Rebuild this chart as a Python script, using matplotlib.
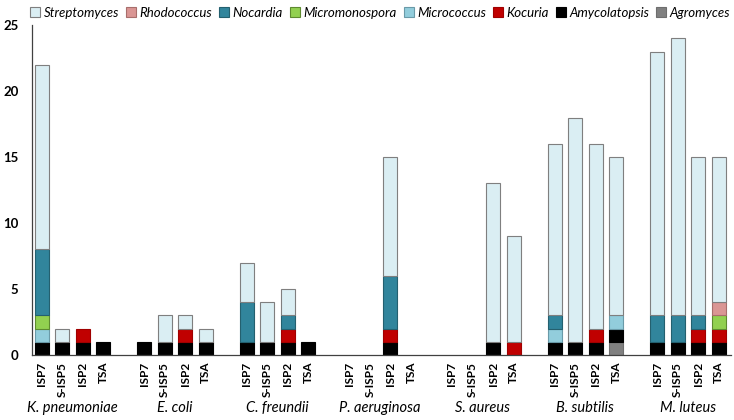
import numpy as np
import matplotlib.pyplot as plt

# bacteria tested and media
groups = ['K. pneumoniae', 'E. coli', 'C. freundii', 'P. aeruginosa',
          'S. aureus', 'B. subtilis', 'M. luteus']
media = ['ISP7', 'S-ISP5', 'ISP2', 'TSA']

# counts per bar (7 groups x 4 media, flattened in group order)
agromyces      = [0,0,0,0, 0,0,0,0, 0,0,0,0, 0,0,0,0, 0,0,0,0, 0,0,0,1, 0,0,0,0]
amycolatopsis  = [1,1,1,1, 1,1,1,1, 1,1,1,1, 0,0,1,0, 0,0,1,0, 1,1,1,1, 1,1,1,1]
kocuria        = [0,0,1,0, 0,0,1,0, 0,0,1,0, 0,0,1,0, 0,0,0,1, 0,0,1,0, 0,0,1,1]
micrococcus    = [1,0,0,0, 0,0,0,0, 0,0,0,0, 0,0,0,0, 0,0,0,0, 1,0,0,1, 0,0,0,0]
micromonospora = [1,0,0,0, 0,0,0,0, 0,0,0,0, 0,0,0,0, 0,0,0,0, 0,0,0,0, 0,0,0,1]
nocardia       = [5,0,0,0, 0,0,0,0, 3,0,1,0, 0,0,4,0, 0,0,0,0, 1,0,0,0, 2,2,1,0]
rhodococcus    = [0,0,0,0, 0,0,0,0, 0,0,0,0, 0,0,0,0, 0,0,0,0, 0,0,0,0, 0,0,0,1]
streptomyces   = [14,1,0,0, 0,2,1,1, 3,3,2,0, 0,0,9,0, 0,0,12,8, 13,17,14,12, 20,21,12,11]

# bottom-to-top stacking
series = [
    ('Agromyces', agromyces, '#808080', '#6e6e6e'),
    ('Amycolatopsis', amycolatopsis, '#000000', '#000000'),
    ('Kocuria', kocuria, '#c00000', '#a00000'),
    ('Micrococcus', micrococcus, '#92cddc', '#6a9aa8'),
    ('Micromonospora', micromonospora, '#92d050', '#5e8a30'),
    ('Nocardia', nocardia, '#31859c', '#24606f'),
    ('Rhodococcus', rhodococcus, '#da9694', '#a86e6c'),
    ('Streptomyces', streptomyces, '#daeef3', '#7f7f7f'),
]

x = np.array([g * 5 + i for g in range(len(groups)) for i in range(len(media))])

plt.rcParams['font.family'] = ['Lato', 'DejaVu Sans']
fig = plt.figure(figsize=(7.34, 4.2), dpi=100)
ax = fig.add_axes([0.044, 0.155, 0.952, 0.785])

bottom = np.zeros(len(x))
handles = []
for name, vals, col, edge in series:
    vals = np.array(vals, dtype=float)
    nz = vals > 0   # skip empty segments so no stray edges show at zero
    b = ax.bar(x[nz], vals[nz], bottom=bottom[nz], width=0.68, color=col,
               edgecolor=edge, linewidth=0.8, label=name)
    handles.append(b)
    bottom += vals

ax.set_xlim(-0.45, 33.6)
ax.set_ylim(0, 25)
ax.set_yticks([0, 5, 10, 15, 20, 25])
ax.set_yticklabels(['0', '5', '10', '15', '20', '25'], fontweight='bold',
                   fontsize=9.5)
ax.tick_params(axis='y', length=0, pad=10)
ax.set_xticks(x)
ax.set_xticklabels(media * len(groups), rotation=90, fontweight='bold',
                   fontsize=8.5)
ax.tick_params(axis='x', length=0, pad=5)
for s in ['top', 'right']:
    ax.spines[s].set_visible(False)
for s in ['left', 'bottom']:
    ax.spines[s].set_color('#404040')
    ax.spines[s].set_linewidth(0.9)

# group labels under the media
for g, name in enumerate(groups):
    ax.text(g * 5 + 1.5, -0.16, name, transform=ax.get_xaxis_transform(),
            ha='center', va='center', style='italic', fontsize=10.5)

leg = fig.legend(handles[::-1], [s[0] for s in series][::-1], loc='upper center',
                 bbox_to_anchor=(0.518, 1.012), ncol=8, frameon=False,
                 handlelength=0.75, handleheight=0.75, handletextpad=0.25,
                 columnspacing=0.55, prop={'style': 'italic', 'size': 9.5})

fig.savefig('out.png', dpi=100)
